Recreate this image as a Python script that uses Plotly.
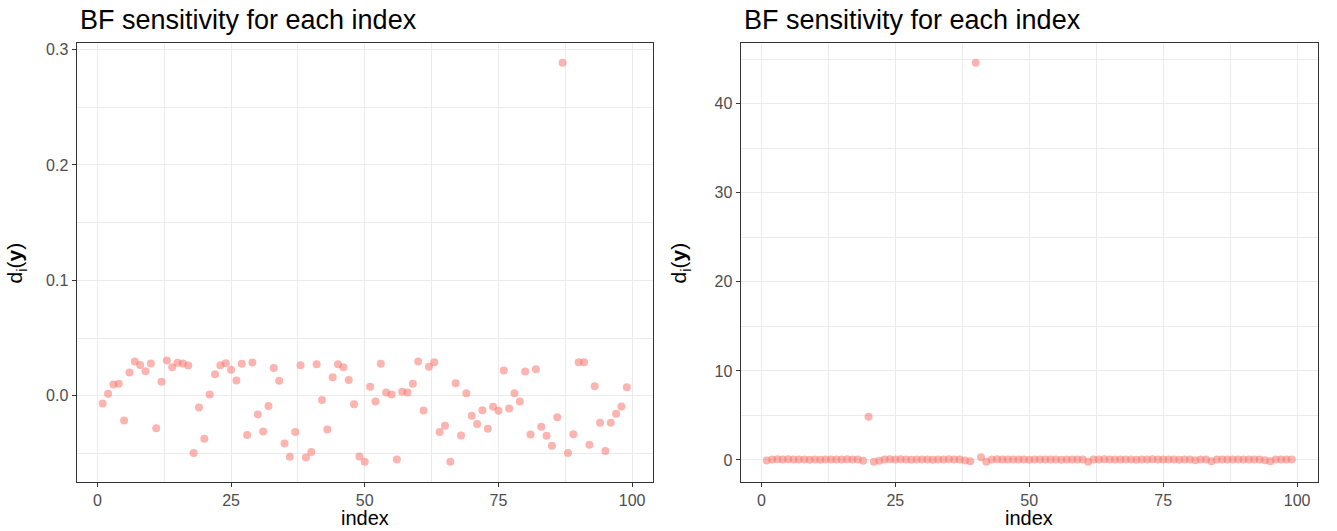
import plotly.graph_objects as go

index = list(range(1, 100))

left_values = [
    -0.0066, 0.0017, 0.0098, 0.0104, -0.0213, 0.0202, 0.0297, 0.0268, 0.0213, 0.0280,
    -0.0280, 0.0121, 0.0306, 0.0248, 0.0286, 0.0280, 0.0262, -0.0496, -0.0101, -0.0372,
    0.0012, 0.0187, 0.0265, 0.0283, 0.0225, 0.0133, 0.0277, -0.0340, 0.0288, -0.0161,
    -0.0309, -0.0089, 0.0242, 0.0130, -0.0412, -0.0528, -0.0314, 0.0265, -0.0534, -0.0487,
    0.0274, -0.0037, -0.0291, 0.0162, 0.0274, 0.0248, 0.0138, -0.0072, -0.0525, -0.0571,
    0.0078, -0.0049, 0.0277, 0.0029, 0.0012, -0.0551, 0.0035, 0.0029, 0.0104, 0.0297,
    -0.0127, 0.0251, 0.0291, -0.0314, -0.0260, -0.0571, 0.0110, -0.0343, 0.0023, -0.0173,
    -0.0245, -0.0124, -0.0286, -0.0095, -0.0130, 0.0219, -0.0110, 0.0023, -0.0049, 0.0211,
    -0.0335, 0.0231, -0.0268, -0.0346, -0.0433, -0.0185, 0.2885, -0.0496, -0.0332, 0.0291,
    0.0291, -0.0424, 0.0084, -0.0234, -0.0479, -0.0234, -0.0156, -0.0092, 0.0075,
]

right_values = [
    -0.05, 0.06, 0.08, 0.05, 0.07, 0.04, 0.06, 0.05, 0.03, 0.06,
    0.02, 0.05, 0.04, 0.06, 0.05, 0.07, 0.04, 0.06, -0.10, 4.85,
    -0.20, -0.10, 0.06, 0.08, 0.05, 0.07, 0.05, 0.03, 0.06, 0.04,
    0.05, 0.03, 0.06, 0.05, 0.07, 0.04, 0.06, -0.05, -0.15, 44.60,
    0.30, -0.20, 0.05, 0.07, 0.06, 0.05, 0.06, 0.04, 0.05, 0.03,
    0.06, 0.05, 0.04, 0.06, 0.05, 0.03, 0.05, 0.06, 0.04, 0.05,
    -0.20, 0.06, 0.05, 0.07, 0.04, 0.05, 0.06, 0.04, 0.05, 0.03,
    0.06, 0.05, 0.07, 0.04, 0.05, 0.06, 0.05, 0.03, 0.05, 0.06,
    -0.02, 0.06, 0.05, -0.15, 0.05, 0.06, 0.04, 0.05, 0.06, 0.04,
    0.05, 0.06, 0.04, -0.03, -0.15, 0.05, 0.06, 0.05, 0.05,
]

title_text = "BF sensitivity for each index"
x_label = "index"
y_label = "d<sub>i</sub>(<b>y</b>)"

W, H = 1337, 531
FONT = "Liberation Sans, Arial, sans-serif"
POINT_COLOR = "#F8766D"

def expand(vals, frac=0.05):
    lo, hi = min(vals), max(vals)
    pad = (hi - lo) * frac
    return [lo - pad, hi + pad]

panels = [
    dict(x0=76.5, x1=653, vals=left_values, dtick=0.1, minor=0.05, fmt=".1f"),
    dict(x0=740.5, x1=1318, vals=right_values, dtick=10, minor=5, fmt="d"),
]
top, bottom = 41, 481.5

fig = go.Figure()
annotations = []
for k, p in enumerate(panels):
    sfx = "" if k == 0 else str(k + 1)
    fig.add_trace(go.Scatter(
        x=index, y=p["vals"], mode="markers",
        marker=dict(color=POINT_COLOR, size=8, opacity=0.55, line=dict(width=0)),
        xaxis="x" + sfx, yaxis="y" + sfx, showlegend=False, hoverinfo="x+y",
    ))
    common = dict(
        showgrid=True, gridcolor="#EBEBEB", gridwidth=1.1,
        showline=True, mirror=True, linecolor="#333333", linewidth=1,
        ticks="outside", ticklen=4, tickcolor="#333333", tickwidth=1,
        tickfont=dict(family=FONT, size=16, color="#4D4D4D"),
        zeroline=False,
    )
    fig.update_layout(**{
        "xaxis" + sfx: dict(
            domain=[p["x0"] / W, p["x1"] / W],
            anchor="y" + sfx, range=expand(index),
            tick0=0, dtick=25,
            minor=dict(dtick=12.5, showgrid=True, gridcolor="#EBEBEB", gridwidth=0.6),
            **common,
        ),
        "yaxis" + sfx: dict(
            domain=[1 - bottom / H, 1 - top / H],
            anchor="x" + sfx, range=expand(p["vals"]),
            tick0=0, dtick=p["dtick"], tickformat=p["fmt"],
            minor=dict(dtick=p["minor"], tick0=0, showgrid=True, gridcolor="#EBEBEB", gridwidth=0.6),
            **common,
        ),
    })
    annotations.append(dict(
        text=title_text, x=(p["x0"] + 1.5) / W, y=1 - 18.5 / H, xref="paper", yref="paper",
        xanchor="left", yanchor="middle", showarrow=False,
        font=dict(family=FONT, size=27, color="#000000"),
    ))
    annotations.append(dict(
        text=x_label, x=(p["x0"] + p["x1"]) / 2 / W, y=1 - 531 / H, xref="paper", yref="paper",
        xanchor="center", yanchor="bottom", showarrow=False,
        font=dict(family=FONT, size=20, color="#000000"),
    ))
    annotations.append(dict(
        text=y_label, x=(p["x0"] - 60) / W, y=1 - 262 / H, xref="paper", yref="paper",
        xanchor="center", yanchor="middle", showarrow=False, textangle=-90,
        font=dict(family=FONT, size=21, color="#000000"),
    ))

fig.update_layout(
    width=W, height=H,
    margin=dict(l=0, r=0, t=0, b=0),
    paper_bgcolor="white", plot_bgcolor="white",
    annotations=annotations,
    font=dict(family=FONT),
)

fig.write_html("out.html")
